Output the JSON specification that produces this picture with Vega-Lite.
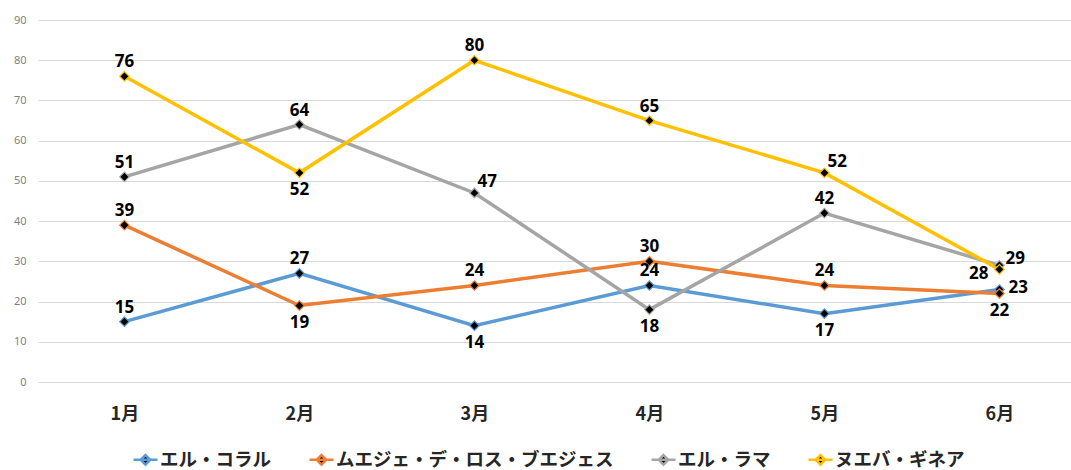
{
  "$schema": "https://vega.github.io/schema/vega-lite/v6.json",
  "width": 1033,
  "height": 362,
  "autosize": "none",
  "padding": {"left": 38, "top": 20, "right": 0, "bottom": 88},
  "background": "white",
  "config": {"view": {"stroke": null}},
  "data": {
    "values": [
      {"s": "エル・コラル", "m": "1月", "v": 15},
      {"s": "エル・コラル", "m": "2月", "v": 27},
      {"s": "エル・コラル", "m": "3月", "v": 14},
      {"s": "エル・コラル", "m": "4月", "v": 24},
      {"s": "エル・コラル", "m": "5月", "v": 17},
      {"s": "エル・コラル", "m": "6月", "v": 23},
      {"s": "ムエジェ・デ・ロス・ブエジェス", "m": "1月", "v": 39},
      {"s": "ムエジェ・デ・ロス・ブエジェス", "m": "2月", "v": 19},
      {"s": "ムエジェ・デ・ロス・ブエジェス", "m": "3月", "v": 24},
      {"s": "ムエジェ・デ・ロス・ブエジェス", "m": "4月", "v": 30},
      {"s": "ムエジェ・デ・ロス・ブエジェス", "m": "5月", "v": 24},
      {"s": "ムエジェ・デ・ロス・ブエジェス", "m": "6月", "v": 22},
      {"s": "エル・ラマ", "m": "1月", "v": 51},
      {"s": "エル・ラマ", "m": "2月", "v": 64},
      {"s": "エル・ラマ", "m": "3月", "v": 47},
      {"s": "エル・ラマ", "m": "4月", "v": 18},
      {"s": "エル・ラマ", "m": "5月", "v": 42},
      {"s": "エル・ラマ", "m": "6月", "v": 29},
      {"s": "ヌエバ・ギネア", "m": "1月", "v": 76},
      {"s": "ヌエバ・ギネア", "m": "2月", "v": 52},
      {"s": "ヌエバ・ギネア", "m": "3月", "v": 80},
      {"s": "ヌエバ・ギネア", "m": "4月", "v": 65},
      {"s": "ヌエバ・ギネア", "m": "5月", "v": 52},
      {"s": "ヌエバ・ギネア", "m": "6月", "v": 28}
    ]
  },
  "encoding": {
    "x": {
      "field": "m", "type": "ordinal", "sort": null,
      "scale": {"type": "point", "padding": 0.4514, "align": 0.547},
      "axis": {
        "title": null, "labelAngle": 0, "domain": false, "ticks": false, "grid": false,
        "labelFont": "Noto Sans CJK JP", "labelFontWeight": "bold", "labelFontSize": 18,
        "labelColor": "#262626", "labelPadding": 23
      }
    },
    "y": {
      "field": "v", "type": "quantitative",
      "scale": {"domain": [0, 90], "nice": false, "zero": true},
      "axis": {
        "title": null, "values": [0, 10, 20, 30, 40, 50, 60, 70, 80, 90],
        "domain": false, "ticks": false, "grid": true, "gridColor": "#d9d9d9", "gridWidth": 1,
        "labelColor": "#7f7f7f", "labelFont": "Noto Sans", "labelFontSize": 11, "labelPadding": 12
      }
    }
  },
  "layer": [
    {
      "mark": {"type": "line", "strokeWidth": 3.5},
      "encoding": {
        "color": {
          "field": "s", "type": "nominal", "sort": null,
          "scale": {
            "domain": ["エル・コラル", "ムエジェ・デ・ロス・ブエジェス", "エル・ラマ", "ヌエバ・ギネア"],
            "range": ["#5B9BD5", "#ED7D31", "#A5A5A5", "#FFC000"]
          },
          "legend": {
            "title": null, "orient": "none", "direction": "horizontal",
            "legendX": 94, "legendY": 426,
            "symbolType": "M-1,0H1M0,-0.4L0.4,0L0,0.4L-0.4,0Z",
            "symbolSize": 576, "symbolStrokeWidth": 2.5, "symbolFillColor": "black",
            "labelFont": "Noto Sans CJK JP", "labelFontSize": 18.5, "labelFontWeight": "bold", "labelColor": "#262626",
            "columnPadding": 32, "labelOffset": 1, "labelLimit": 400
          }
        }
      }
    },
    {
      "mark": {"type": "point", "shape": "diamond", "filled": false, "fill": "black", "fillOpacity": 1, "opacity": 1, "size": 90, "strokeWidth": 1.2},
      "encoding": {
        "stroke": {
          "field": "s", "type": "nominal",
          "scale": {
            "domain": ["エル・コラル", "ムエジェ・デ・ロス・ブエジェス", "エル・ラマ", "ヌエバ・ギネア"],
            "range": ["#5B9BD5", "#ED7D31", "#A5A5A5", "#FFC000"]
          },
          "legend": null
        }
      }
    },
    {
      "transform": [{"filter": "indexof(['ヌエバ・ギネア2月','ムエジェ・デ・ロス・ブエジェス2月','エル・コラル3月','エル・ラマ4月','エル・コラル5月','ムエジェ・デ・ロス・ブエジェス6月','エル・ラマ3月','ヌエバ・ギネア5月','エル・ラマ6月','エル・コラル6月','ヌエバ・ギネア6月'], datum.s + datum.m) < 0"}],
      "mark": {"type": "text", "dy": -14, "baseline": "middle", "align": "center", "font": "Noto Sans", "fontWeight": "bold", "fontSize": 17, "color": "black"},
      "encoding": {"text": {"field": "v", "type": "quantitative"}}
    },
    {
      "transform": [{"filter": "indexof(['ヌエバ・ギネア2月','ムエジェ・デ・ロス・ブエジェス2月','エル・コラル3月','エル・ラマ4月','エル・コラル5月','ムエジェ・デ・ロス・ブエジェス6月'], datum.s + datum.m) >= 0"}],
      "mark": {"type": "text", "dy": 17, "baseline": "middle", "align": "center", "font": "Noto Sans", "fontWeight": "bold", "fontSize": 17, "color": "black"},
      "encoding": {"text": {"field": "v", "type": "quantitative"}}
    },
    {
      "transform": [{"filter": "indexof(['エル・ラマ3月','ヌエバ・ギネア5月'], datum.s + datum.m) >= 0"}],
      "mark": {"type": "text", "dx": 3, "dy": -11, "baseline": "middle", "align": "left", "font": "Noto Sans", "fontWeight": "bold", "fontSize": 17, "color": "black"},
      "encoding": {"text": {"field": "v", "type": "quantitative"}}
    },
    {
      "transform": [{"filter": "datum.s + datum.m == 'エル・ラマ6月'"}],
      "mark": {"type": "text", "dx": 6, "dy": -6, "baseline": "middle", "align": "left", "font": "Noto Sans", "fontWeight": "bold", "fontSize": 17, "color": "black"},
      "encoding": {"text": {"field": "v", "type": "quantitative"}}
    },
    {
      "transform": [{"filter": "datum.s + datum.m == 'エル・コラル6月'"}],
      "mark": {"type": "text", "dx": 9, "dy": -1, "baseline": "middle", "align": "left", "font": "Noto Sans", "fontWeight": "bold", "fontSize": 17, "color": "black"},
      "encoding": {"text": {"field": "v", "type": "quantitative"}}
    },
    {
      "transform": [{"filter": "datum.s + datum.m == 'ヌエバ・ギネア6月'"}],
      "mark": {"type": "text", "dx": -11, "dy": 5, "baseline": "middle", "align": "right", "font": "Noto Sans", "fontWeight": "bold", "fontSize": 17, "color": "black"},
      "encoding": {"text": {"field": "v", "type": "quantitative"}}
    }
  ]
}
